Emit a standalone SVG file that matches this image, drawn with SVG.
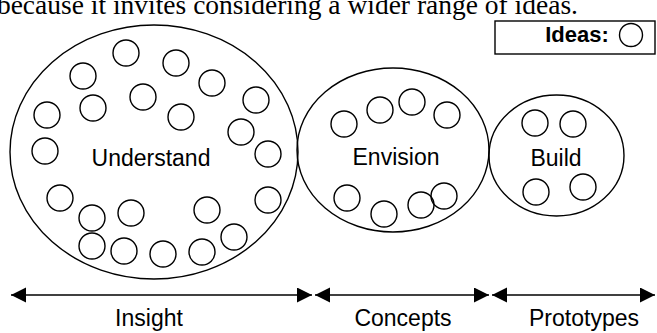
<svg xmlns="http://www.w3.org/2000/svg" width="657" height="333" viewBox="0 0 657 333">
  <style>
    .phase { fill: none; stroke: #000; stroke-width: 1.4; }
    .idea { fill: none; stroke: #000; stroke-width: 1.4; }
    .lbl { font-family: "Liberation Sans", Arial, sans-serif; font-size: 23px; fill: #000; text-anchor: middle; }
    .span { stroke: #000; stroke-width: 1.6; fill: none; marker-start: url(#head); marker-end: url(#head); }
  </style>
  <defs>
    <marker id="head" markerUnits="userSpaceOnUse" markerWidth="16" markerHeight="16" refX="15" refY="7.5" orient="auto-start-reverse">
      <path d="M0,0 L15,7.5 L0,15 Z" fill="#000"/>
    </marker>
  </defs>
  <rect width="657" height="333" fill="#fff"/>

  <!-- running text line above the figure -->
  <text x="578" y="14" font-family="Liberation Serif, 'Times New Roman', serif" font-size="27.5" text-anchor="end">because it invites considering a wider range of ideas.</text>

  <!-- legend -->
  <g id="legend">
    <rect x="495" y="21" width="160" height="33" fill="none" stroke="#000" stroke-width="1.4"/>
    <text x="577" y="42" font-family="'Liberation Sans', Arial, sans-serif" font-size="22" font-weight="bold" text-anchor="middle">Ideas:</text>
    <circle class="idea" cx="631" cy="35" r="11.5"/>
  </g>

  <!-- Understand phase -->
  <g id="understand">
    <ellipse class="phase" cx="154" cy="152" rx="144" ry="127"/>
    <text class="lbl" x="151" y="166">Understand</text>
    <circle class="idea" cx="126" cy="53" r="13"/>
    <circle class="idea" cx="83" cy="76" r="13"/>
    <circle class="idea" cx="176" cy="63" r="13"/>
    <circle class="idea" cx="212" cy="83" r="13"/>
    <circle class="idea" cx="143" cy="97" r="13"/>
    <circle class="idea" cx="93" cy="108" r="13"/>
    <circle class="idea" cx="47" cy="115" r="13"/>
    <circle class="idea" cx="181" cy="117" r="13"/>
    <circle class="idea" cx="256" cy="100" r="13"/>
    <circle class="idea" cx="241" cy="132" r="13"/>
    <circle class="idea" cx="45" cy="151" r="13"/>
    <circle class="idea" cx="268" cy="154" r="13"/>
    <circle class="idea" cx="60" cy="198" r="13"/>
    <circle class="idea" cx="92" cy="218" r="13"/>
    <circle class="idea" cx="131" cy="213" r="13"/>
    <circle class="idea" cx="207" cy="210" r="13"/>
    <circle class="idea" cx="268" cy="200" r="13"/>
    <circle class="idea" cx="92" cy="246" r="13"/>
    <circle class="idea" cx="124" cy="251" r="13"/>
    <circle class="idea" cx="163" cy="254" r="13"/>
    <circle class="idea" cx="202" cy="252" r="13"/>
    <circle class="idea" cx="234" cy="237" r="13"/>
  </g>

  <!-- Envision phase -->
  <g id="envision">
    <ellipse class="phase" cx="393" cy="150" rx="96" ry="82"/>
    <text class="lbl" x="396" y="165">Envision</text>
    <circle class="idea" cx="344" cy="124" r="13"/>
    <circle class="idea" cx="380" cy="110" r="13"/>
    <circle class="idea" cx="412" cy="102" r="13"/>
    <circle class="idea" cx="447" cy="115" r="13"/>
    <circle class="idea" cx="347" cy="198" r="13"/>
    <circle class="idea" cx="384" cy="214" r="13"/>
    <circle class="idea" cx="421" cy="205" r="13"/>
    <circle class="idea" cx="444" cy="196" r="13"/>
  </g>

  <!-- Build phase -->
  <g id="build">
    <ellipse class="phase" cx="556.5" cy="155.5" rx="67.5" ry="60.5"/>
    <text class="lbl" x="556" y="166">Build</text>
    <circle class="idea" cx="535" cy="123" r="13"/>
    <circle class="idea" cx="573" cy="124" r="13"/>
    <circle class="idea" cx="536" cy="192" r="13"/>
    <circle class="idea" cx="583" cy="187" r="13"/>
  </g>

  <!-- output spans -->
  <g id="connectors">
    <line class="span" x1="11" y1="295" x2="312" y2="295"/>
    <line class="span" x1="315" y1="295" x2="489" y2="295"/>
    <line class="span" x1="492" y1="295" x2="655" y2="295"/>
  </g>
  <text class="lbl" x="149" y="326">Insight</text>
  <text class="lbl" x="403" y="326">Concepts</text>
  <text class="lbl" x="584" y="326">Prototypes</text>
</svg>
